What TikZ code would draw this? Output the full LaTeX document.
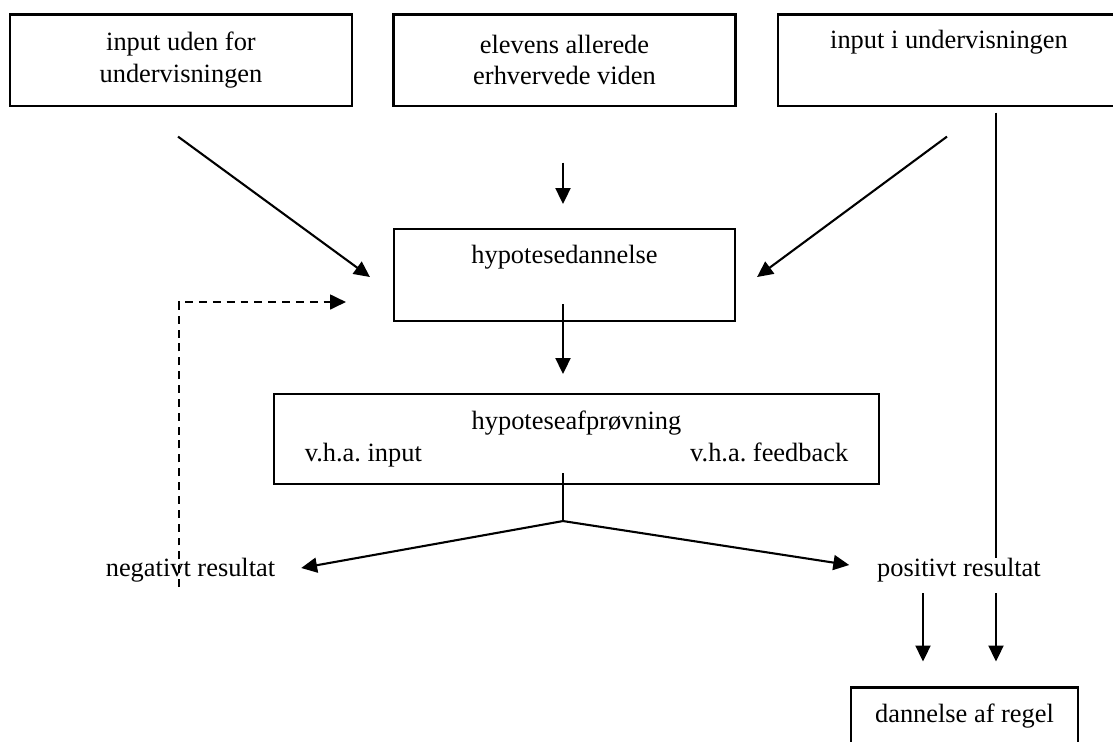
\documentclass[tikz,border=0pt]{standalone}
\usepackage{fontspec}
\setmainfont{Liberation Serif}
\usetikzlibrary{arrows.meta,calc}
\tikzstyle{boks}=[rectangle, draw, align=center, inner sep=0pt, font=\fontsize{12pt}{14.5pt}\selectfont\frenchspacing]
\tikzstyle{tekst}=[inner sep=0pt, font=\fontsize{12pt}{14.5pt}\selectfont]
\tikzstyle{pil}=[-{Triangle[length=7.2pt, width=6.8pt]}]
\tikzstyle{streg}=[dash pattern=on 3.6pt off 2.7pt, line width=0.7pt]

\begin{document}
\begin{tikzpicture}[x=0.4545pt, y=-0.4545pt, line width=0.95pt]
                    \useasboundingbox (0,0) rectangle (1113,742);
                    \clip (0,0) rectangle (1113,742);
                    \node[boks, minimum width=155.4pt, minimum height=41.4pt] (udenfor) at (181, 60) {input uden for\\undervisningen};
                    \node[boks, minimum width=155.4pt, minimum height=41.4pt] (viden) at (564.5, 60) {elevens allerede\\erhvervede viden};
                    \node[boks, minimum width=155.4pt, minimum height=41.4pt] (iunder) at (949, 60) {input i undervisningen\\\strut};
                    \node[boks, minimum width=155pt, minimum height=41.8pt] (dannelse) at (564.5, 275) {hypotesedannelse\\\strut};
                    \node[boks, minimum width=275pt, minimum height=40.9pt] (afproevning) at (576.5, 439)
                        {hypoteseafprøvning\\\makebox[247pt]{v.h.a. input\hfill v.h.a. feedback}};
                    \node[tekst] (negativ) at (190.5, 570) {negativt resultat};
                    \node[tekst] (positiv) at (959, 570) {positivt resultat};
                    \node[boks, minimum width=103.2pt, minimum height=25.9pt] (regel) at (964.5, 716) {dannelse af regel};
                    \coordinate (gaffel) at ($(afproevning.south)+(-13.5,36)$);
                    \draw[pil] ($(udenfor.south)+(-3,30)$) -- ($(dannelse.west)+(-23,2)$);
                    \draw[pil] ($(viden.south)+(-1.5,56)$) -- ($(dannelse.north)+(-1.5,-24)$);
                    \draw[pil] ($(iunder.south)+(-2,30)$) -- ($(dannelse.east)+(21,2)$);
                    \draw[pil] ($(dannelse.south)+(-1.5,-18)$) -- ($(afproevning.north)+(-13.5,-19)$);
                    \draw ($(afproevning.south)+(-13.5,-12)$) -- (gaffel);
                    \draw[pil] (gaffel) -- ($(negativ.east)+(25,-2)$);
                    \draw[pil] (gaffel) -- ($(positiv.west)+(-27,-5)$);
                    \draw[streg, -{Triangle[length=7.2pt, width=6.8pt]}] ($(negativ.center)+(-11.5,17)$) |- ($(dannelse.west)+(-47,27)$);
                    \draw ($(iunder.south)+(47,6)$) -- ($(positiv.center)+(37,-12)$);
                    \draw[pil] ($(positiv.center)+(37,23)$) -- ($(regel.north)+(31.5,-25)$);
                    \draw[pil] ($(positiv.center)+(-36,23)$) -- ($(regel.north)+(-41.5,-25)$);
                \end{tikzpicture}
\end{document}
